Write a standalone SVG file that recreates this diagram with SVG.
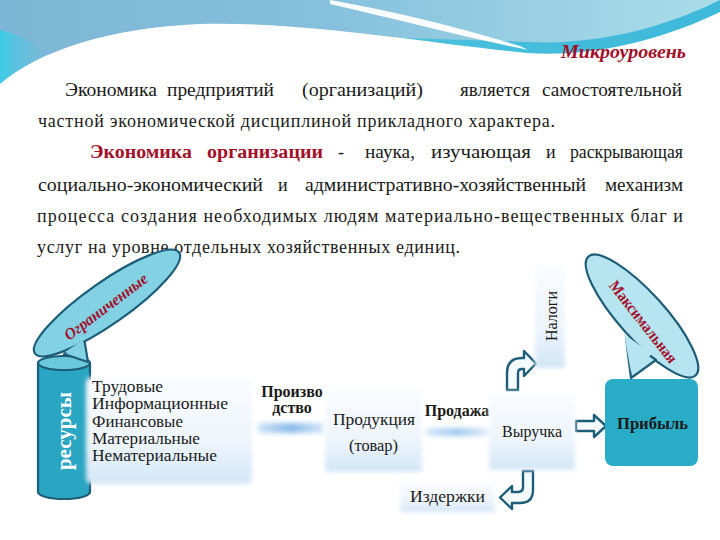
<svg xmlns="http://www.w3.org/2000/svg" width="720" height="540" viewBox="0 0 720 540">
<defs>
<linearGradient id="sky" x1="0" y1="0" x2="1" y2="0">
<stop offset="0" stop-color="#7db6d6"/><stop offset="0.45" stop-color="#86c0dc"/><stop offset="1" stop-color="#a9dde9"/>
</linearGradient>
<linearGradient id="cyanL" x1="0" y1="0" x2="1" y2="0">
<stop offset="0" stop-color="#3ccbe5"/><stop offset="1" stop-color="#62c2de" stop-opacity="0"/>
</linearGradient>
<linearGradient id="band" x1="0" y1="0" x2="1" y2="0">
<stop offset="0" stop-color="#5fc3de" stop-opacity="0"/><stop offset="0.3" stop-color="#49c0dd"/><stop offset="1" stop-color="#3fb9da"/>
</linearGradient>
<linearGradient id="box" x1="0" y1="0" x2="0" y2="1">
<stop offset="0" stop-color="#fafcff"/><stop offset="0.6" stop-color="#eef5fc"/><stop offset="1" stop-color="#d3e6f7"/>
</linearGradient>
<linearGradient id="bar" x1="0" y1="0" x2="1" y2="0">
<stop offset="0" stop-color="#cfe3f7"/><stop offset="0.5" stop-color="#86b9e8"/><stop offset="1" stop-color="#d6e8f8"/>
</linearGradient>
<filter id="soft" x="-10%" y="-10%" width="120%" height="120%"><feGaussianBlur stdDeviation="2"/></filter>
<filter id="blur3" x="-20%" y="-50%" width="140%" height="200%"><feGaussianBlur stdDeviation="2.5"/></filter>
<style>
.t{font-family:"Liberation Serif","DejaVu Serif",serif;font-size:18px;fill:#1a1a1a}
.lbl{font-family:"Liberation Serif","DejaVu Serif",serif;font-size:16px;fill:#1a1a1a}
.b{font-weight:bold}
.red{fill:#a3102a}
.box{fill:url(#box)}
.edge{stroke:#1d5d78;stroke-width:2.2;stroke-linejoin:round}
.arr{fill:#f4fbfd;stroke:#1d5d78;stroke-width:2.4;stroke-linejoin:round}
</style>
</defs>
<!-- background -->
<rect width="720" height="540" fill="#ffffff"/>
<rect width="720" height="120" fill="url(#sky)"/>
<path d="M0 30 C 40 40 60 60 50 95 L0 100 Z" fill="url(#cyanL)"/>
<path d="M240 40 C 330 35 430 38 527 42 C 610 46 680 20 720 0 L720 20 C 670 42 600 62 527 58 C 420 52 330 42 240 40 Z" fill="url(#band)"/>
<path d="M330 0 C 400 12 460 28 520 46 L528 50 C 460 36 400 20 330 4 Z" fill="#ffffff" opacity="0.95"/>
<path d="M0 84 C 40 50 110 28 200 24 C 300 21 420 42 527 53 C 600 58 670 36 720 12 L720 540 L0 540 Z" fill="#ffffff"/>

<!-- text -->
<text class="t red b" x="686" y="58" text-anchor="end" font-style="italic" font-size="16" textLength="125" lengthAdjust="spacingAndGlyphs">Микроуровень</text>
<g class="t">
<text x="65" y="96" textLength="92" lengthAdjust="spacingAndGlyphs">Экономика</text>
<text x="167" y="96" textLength="107" lengthAdjust="spacingAndGlyphs">предприятий</text>
<text x="302" y="96" textLength="121" lengthAdjust="spacingAndGlyphs">(организаций)</text>
<text x="460" y="96" textLength="70" lengthAdjust="spacingAndGlyphs">является</text>
<text x="542" y="96" textLength="140" lengthAdjust="spacingAndGlyphs">самостоятельной</text>
<text x="38" y="127" textLength="517" lengthAdjust="spacing">частной экономической дисциплиной прикладного характера.</text>
<text x="90" y="158" class="red b" textLength="102" lengthAdjust="spacingAndGlyphs">Экономика</text>
<text x="207" y="158" class="red b" textLength="116" lengthAdjust="spacingAndGlyphs">организации</text>
<text x="338" y="158">-</text>
<text x="365" y="158" textLength="50" lengthAdjust="spacingAndGlyphs">наука,</text>
<text x="431" y="158" textLength="100" lengthAdjust="spacingAndGlyphs">изучающая</text>
<text x="546" y="158">и</text>
<text x="570" y="158" textLength="113" lengthAdjust="spacingAndGlyphs">раскрывающая</text>
<text x="38" y="191" textLength="225" lengthAdjust="spacingAndGlyphs">социально-экономический</text>
<text x="278" y="191">и</text>
<text x="305" y="191" textLength="281" lengthAdjust="spacingAndGlyphs">административно-хозяйственный</text>
<text x="605" y="191" textLength="78" lengthAdjust="spacingAndGlyphs">механизм</text>
<text x="37" y="222" textLength="646" lengthAdjust="spacing">процесса создания необходимых людям материально-вещественных благ и</text>
<text x="37" y="253" textLength="423" lengthAdjust="spacing">услуг на уровне отдельных хозяйственных единиц.</text>
</g>

<!-- connectors -->
<g id="connectors">
<rect x="258" y="423" width="66" height="10" fill="url(#bar)" filter="url(#blur3)"/>
<rect x="426" y="428" width="62" height="8" fill="url(#bar)" filter="url(#blur3)" opacity="0.8"/>
<path class="arr" d="M507 390 L507 373 Q507 358 522 358 L524 358 L524 351 L536 363.5 L524 376 L524 369 L522 369 Q518 369 518 373 L518 390 Z"/>
<path class="arr" d="M523 471 L523 487 Q523 492 518 492 L512 492 L512 486 L500 497.5 L512 509 L512 503 L520 503 Q533 503 533 490 L533 471 Z"/>
<path class="arr" d="M576 421 L594 421 L594 415 L606 426 L594 437 L594 431 L576 431 Z"/>
</g>

<!-- Ограниченные ресурсы -->
<g id="resources">
<path d="M38 363 L38 492 A26 7 0 0 0 90 492 L90 363 Z" fill="#2aa5c2" class="edge"/>
<ellipse cx="64" cy="363" rx="26" ry="7" fill="#6cc8dc" class="edge"/>
<path d="M64 354 L88 362 L84 338 Z" fill="#82d2e4" class="edge"/>
<ellipse cx="107" cy="303" rx="88" ry="21" transform="rotate(-35 107 303)" fill="#82d2e4" class="edge"/>
<path d="M65 352 L86 359 L83 340 Z" fill="#82d2e4"/>
<text class="lbl b red" x="106" y="312" text-anchor="middle" font-size="14" font-style="italic" textLength="100" lengthAdjust="spacingAndGlyphs" transform="rotate(-37 106 307)">Ограниченные</text>
<text x="0" y="0" font-family="Liberation Serif, DejaVu Serif, serif" font-size="21" font-weight="bold" fill="#ffffff" text-anchor="middle" transform="translate(71 431) rotate(-90)">ресурсы</text>
</g>

<g id="types">
<rect x="86" y="377" width="166" height="107" rx="6" class="box" filter="url(#soft)"/>
<g class="lbl" font-size="17">
<text x="92" y="392" textLength="71" lengthAdjust="spacingAndGlyphs">Трудовые</text>
<text x="92" y="409" textLength="136" lengthAdjust="spacingAndGlyphs">Информационные</text>
<text x="92" y="427" textLength="91" lengthAdjust="spacingAndGlyphs">Финансовые</text>
<text x="92" y="444" textLength="108" lengthAdjust="spacingAndGlyphs">Материальные</text>
<text x="92" y="461" textLength="125" lengthAdjust="spacingAndGlyphs">Нематериальные</text>
</g>
</g>

<g id="production">
<text class="lbl b" font-size="14" text-anchor="middle"><tspan x="292" y="397">Произво</tspan><tspan x="292" y="413">дство</tspan></text>
</g>

<g id="product">
<rect x="325" y="390" width="97" height="82" class="box" filter="url(#soft)"/>
<text class="lbl" x="333" y="425" font-size="17" textLength="82" lengthAdjust="spacingAndGlyphs">Продукция</text>
<text class="lbl" x="349" y="451" font-size="17" textLength="49" lengthAdjust="spacingAndGlyphs">(товар)</text>
</g>

<g id="sale">
<text class="lbl b" x="457" y="416" text-anchor="middle" font-size="14">Продажа</text>
</g>

<g id="revenue">
<rect x="489" y="392" width="86" height="78" class="box" filter="url(#soft)"/>
<text class="lbl" x="502" y="437" textLength="60" lengthAdjust="spacingAndGlyphs">Выручка</text>
</g>

<g id="taxes">
<rect x="535" y="265" width="30" height="103" class="box" filter="url(#soft)"/>
<text class="lbl" x="0" y="0" text-anchor="middle" transform="translate(557 316) rotate(-90)">Налоги</text>
</g>

<g id="costs">
<rect x="400" y="482" width="95" height="30" class="box" filter="url(#soft)"/>
<text class="lbl" x="410" y="502" textLength="75" lengthAdjust="spacingAndGlyphs">Издержки</text>
</g>

<g id="profit">
<ellipse cx="642" cy="316" rx="80" ry="23" transform="rotate(48 642 316)" fill="#b6e4f0" class="edge"/>
<path d="M626 338 L631 378 L656 360 Z" fill="#b6e4f0" class="edge"/>
<path d="M624 334 L631 372 L652 354 Z" fill="#b6e4f0"/>
<text class="lbl b red" x="643" y="327" text-anchor="middle" font-size="14" textLength="100" lengthAdjust="spacingAndGlyphs" transform="rotate(52 643 322)">Максимальная</text>
<rect x="605" y="379" width="93" height="87" rx="8" fill="#29acc6"/>
<text class="lbl" x="617" y="429" font-size="17" textLength="71" lengthAdjust="spacingAndGlyphs" fill="#0d2a36" font-weight="bold">Прибыль</text>
</g>
</svg>
